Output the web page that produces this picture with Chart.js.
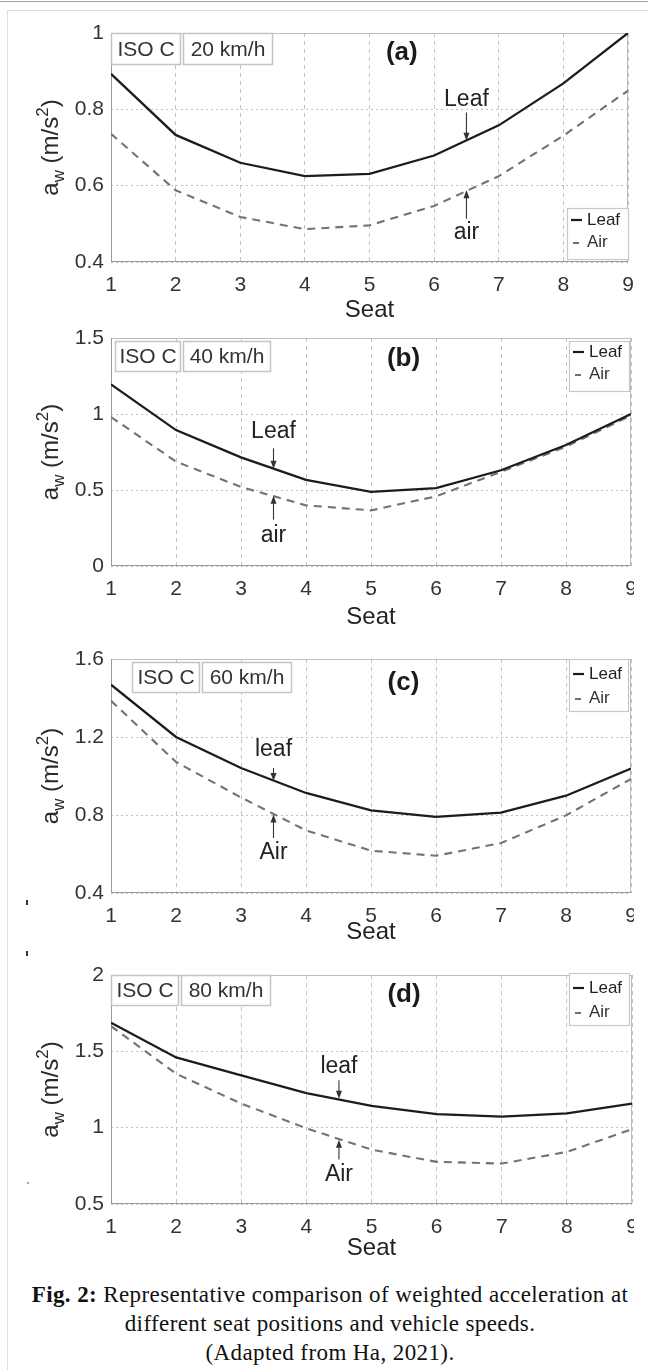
<!DOCTYPE html>
<html><head><meta charset="utf-8">
<script src="https://cdn.jsdelivr.net/npm/chart.js@4.4.1/dist/chart.umd.min.js"></script>
<style>
html,body{margin:0;padding:0;background:#fff;}
body{width:648px;height:1370px;position:relative;overflow:hidden;}
#topline{position:absolute;left:0;top:1px;width:648px;height:0;border-top:1px solid #a3a3a3;}
#frame{position:absolute;left:7px;top:10px;width:700px;height:1400px;border-left:1px solid #dedede;border-top:1px solid #dedede;}
canvas{position:absolute;left:0;}
#caption{position:absolute;left:0;width:660px;top:1280px;text-align:center;font-family:'Liberation Serif','Times New Roman',serif;font-size:23px;letter-spacing:0.4px;line-height:29px;color:#111;}
</style></head>
<body>
<div id="topline"></div><div id="frame"></div>
<canvas id="cA" width="648" height="330" style="top:0px"></canvas>
<canvas id="cB" width="634" height="330" style="top:320px"></canvas>
<canvas id="cC" width="634" height="320" style="top:640px"></canvas>
<canvas id="cD" width="634" height="310" style="top:960px"></canvas>
<div id="caption"><b>Fig. 2:</b> Representative comparison of weighted acceleration at<br>different seat positions and vehicle speeds.<br>(Adapted from Ha, 2021).</div>
<script>
// ---- data ----
const seats = [1, 2, 3, 4, 5, 6, 7, 8, 9];
const xTickLabels = ['1', '2', '3', '4', '5', '6', '7', '8', '9'];
const seriesNames = ['Leaf', 'Air'];

const leafA = [0.893, 0.733, 0.66, 0.625, 0.631, 0.679, 0.758, 0.868, 1.0];
const airA  = [0.736, 0.588, 0.518, 0.486, 0.496, 0.547, 0.625, 0.731, 0.849];
const leafB = [1.195, 0.894, 0.715, 0.567, 0.488, 0.512, 0.63, 0.796, 1.0];
const airB  = [0.98, 0.687, 0.52, 0.399, 0.366, 0.458, 0.62, 0.785, 0.99];
const leafC = [1.468, 1.2, 1.041, 0.913, 0.824, 0.79, 0.812, 0.899, 1.038];
const airC  = [1.386, 1.072, 0.89, 0.721, 0.617, 0.591, 0.656, 0.798, 0.985];
const leafD = [1.687, 1.46, 1.342, 1.227, 1.143, 1.089, 1.072, 1.094, 1.158];
const airD  = [1.665, 1.353, 1.158, 0.996, 0.856, 0.776, 0.765, 0.841, 0.99];

const yTicksA = [0.4, 0.6, 0.8, 1];   const yLabelsA = ['0.4', '0.6', '0.8', '1'];
const yTicksB = [0, 0.5, 1, 1.5];     const yLabelsB = ['0', '0.5', '1', '1.5'];
const yTicksC = [0.4, 0.8, 1.2, 1.6]; const yLabelsC = ['0.4', '0.8', '1.2', '1.6'];
const yTicksD = [0.5, 1, 1.5, 2];     const yLabelsD = ['0.5', '1', '1.5', '2'];

const panelTags = ['(a)', '(b)', '(c)', '(d)'];
const roadLabel = 'ISO C';
const speedLabels = ['20 km/h', '40 km/h', '60 km/h', '80 km/h'];
const xTitle = 'Seat';

// annotation callouts: [label, x, textY, arrowStartY, arrowTipY]
const notesA = [['Leaf', 6.5, 0.826, 0.792, 0.718], ['air', 6.5, 0.477, 0.513, 0.588]];
const notesB = [['Leaf', 3.5, 0.887, 0.774, 0.640], ['air', 3.5, 0.200, 0.305, 0.462]];
const notesC = [['leaf', 3.5, 1.135, 1.041, 0.975], ['Air', 3.5, 0.605, 0.682, 0.802]];
const notesD = [['leaf', 4.5, 1.400, 1.310, 1.190], ['Air', 4.5, 0.694, 0.791, 0.921]];

// ---- layout (pixels) ----
const panels = [
  {id:'cA', top:0,   H:330, W:648, plotTop:33,  plotBottom:262,  plotRight:628, seatY:310,
   leaf:leafA, air:airA, yt:yTicksA, yl:yLabelsA, notes:notesA,
   box:{dx:0, dy:0, w1:70, w2:90, h:32}, tagDy:20,
   legend:{x:567, y:208, w:62, h:52, r1:12, r2:34}},
  {id:'cB', top:320, H:330, W:634, plotTop:338, plotBottom:566,  plotRight:631, seatY:617,
   leaf:leafB, air:airB, yt:yTicksB, yl:yLabelsB, notes:notesB,
   box:{dx:4, dy:3, w1:66, w2:88, h:31}, tagDy:21,
   legend:{x:569, y:341, w:61, h:51, r1:11, r2:33}},
  {id:'cC', top:640, H:320, W:634, plotTop:659, plotBottom:893,  plotRight:631, seatY:932,
   leaf:leafC, air:airC, yt:yTicksC, yl:yLabelsC, notes:notesC,
   box:{dx:21, dy:3, w1:68, w2:90, h:31}, tagDy:24,
   legend:{x:569, y:659, w:60, h:53, r1:15, r2:39}, marks:[[27, 900, 27, 905], [27, 951, 27, 956]]},
  {id:'cD', top:960, H:310, W:634, plotTop:975, plotBottom:1204, plotRight:632, seatY:1248,
   leaf:leafD, air:airD, yt:yTicksD, yl:yLabelsD, notes:notesD,
   box:{dx:0, dy:0, w1:68, w2:90, h:31}, tagDy:20,
   legend:{x:569, y:973, w:61, h:53, r1:15, r2:39}, dots:[[27, 1182]]}
];

const SANS = "'Liberation Sans', Arial, Helvetica, sans-serif";
const TITLE_LH = 28.8;

const deco = {
  id: 'deco',
  beforeDatasetsDraw(chart, args, o) {
    const ctx = chart.ctx, a = chart.chartArea;
    ctx.save();
    ctx.lineWidth = 1;
    ctx.strokeStyle = '#bdbdbd';
    ctx.beginPath();
    ctx.moveTo(a.left, a.top + 0.5); ctx.lineTo(a.right, a.top + 0.5);
    ctx.moveTo(a.right - 0.5, a.top); ctx.lineTo(a.right - 0.5, a.bottom);
    ctx.stroke();
    ctx.strokeStyle = '#9a9a9a';
    ctx.beginPath();
    ctx.moveTo(a.left + 0.5, a.top); ctx.lineTo(a.left + 0.5, a.bottom);
    ctx.moveTo(a.left, a.bottom - 0.5); ctx.lineTo(a.right, a.bottom - 0.5);
    ctx.stroke();
    ctx.restore();
  },
  afterDatasetsDraw(chart, args, o) {
    const p = o.p, ctx = chart.ctx, a = chart.chartArea;
    const xs = chart.scales.x, ys = chart.scales.y;
    ctx.save();
    // ISO C / speed boxes
    const bx = a.left + p.box.dx, by = a.top + p.box.dy;
    const boxes = [[bx, p.box.w1, roadLabel], [bx + p.box.w1 + 2, p.box.w2, speedLabels[o.idx]]];
    boxes.forEach(([x0, w, t]) => {
      ctx.fillStyle = '#fff';
      ctx.fillRect(x0, by, w, p.box.h);
      ctx.strokeStyle = '#c4c4c4'; ctx.lineWidth = 1.5;
      ctx.strokeRect(x0 + 0.5, by + 0.5, w - 1, p.box.h - 1);
      ctx.fillStyle = '#333'; ctx.font = '21px ' + SANS;
      ctx.textAlign = 'center'; ctx.textBaseline = 'middle';
      ctx.fillText(t, x0 + w / 2, by + p.box.h / 2 + 1);
    });
    // panel tag
    ctx.fillStyle = '#1a1a1a'; ctx.font = 'bold 26px ' + SANS;
    ctx.textAlign = 'center'; ctx.textBaseline = 'middle';
    ctx.fillText(panelTags[o.idx], xs.getPixelForValue(5.5), a.top + p.tagDy);
    // callouts
    p.notes.forEach(([t, x, ty, y0, y1]) => {
      const px = xs.getPixelForValue(x);
      ctx.fillStyle = '#222'; ctx.font = '23px ' + SANS;
      ctx.textAlign = 'center'; ctx.textBaseline = 'middle';
      ctx.fillText(t, px, ys.getPixelForValue(ty));
      const p0 = ys.getPixelForValue(y0), p1 = ys.getPixelForValue(y1);
      const dir = p1 > p0 ? 1 : -1;
      ctx.strokeStyle = '#333'; ctx.lineWidth = 1.1;
      ctx.beginPath(); ctx.moveTo(px, p0); ctx.lineTo(px, p1 - dir * 5); ctx.stroke();
      ctx.fillStyle = '#333';
      ctx.beginPath(); ctx.moveTo(px, p1); ctx.lineTo(px - 3, p1 - dir * 8); ctx.lineTo(px + 3, p1 - dir * 8); ctx.closePath(); ctx.fill();
    });
    // legend
    const L = p.legend, ly = L.y - o.top;
    ctx.fillStyle = '#fff'; ctx.fillRect(L.x, ly, L.w, L.h);
    ctx.strokeStyle = '#c8c8c8'; ctx.lineWidth = 1.2;
    ctx.strokeRect(L.x + 0.5, ly + 0.5, L.w - 1, L.h - 1);
    ctx.font = '17px ' + SANS; ctx.textAlign = 'left'; ctx.textBaseline = 'middle';
    ctx.fillStyle = '#222';
    ctx.fillText(seriesNames[0], L.x + 20, ly + L.r1);
    ctx.fillStyle = '#333';
    ctx.fillText(seriesNames[1], L.x + 20, ly + L.r2);
    ctx.strokeStyle = '#1c1c1c'; ctx.lineWidth = 2.2;
    ctx.beginPath(); ctx.moveTo(L.x + 4, ly + L.r1); ctx.lineTo(L.x + 15, ly + L.r1); ctx.stroke();
    ctx.strokeStyle = '#707070'; ctx.lineWidth = 2;
    ctx.beginPath(); ctx.moveTo(L.x + 6, ly + L.r2 + 1); ctx.lineTo(L.x + 12, ly + L.r2 + 1); ctx.stroke();
    // y-axis title: a_w (m/s^2)
    ctx.translate(58, (a.top + a.bottom) / 2);
    ctx.rotate(-Math.PI / 2);
    const big = '24px ' + SANS, small = '17px ' + SANS;
    const parts = [['a', big, 0], ['w', small, 6], [' (m/s', big, 0], ['2', small, -10], [')', big, 0]];
    let total = 0;
    parts.forEach(pt => { ctx.font = pt[1]; total += ctx.measureText(pt[0]).width; });
    let cx = -total / 2;
    ctx.fillStyle = '#2a2a2a'; ctx.textAlign = 'left'; ctx.textBaseline = 'alphabetic';
    parts.forEach(pt => { ctx.font = pt[1]; ctx.fillText(pt[0], cx, pt[2]); cx += ctx.measureText(pt[0]).width; });
    ctx.restore();
    // scan specks of the source figure
    ctx.save();
    (p.marks || []).forEach(m => {
      ctx.strokeStyle = '#333'; ctx.lineWidth = 2;
      ctx.beginPath(); ctx.moveTo(m[0], m[1] - o.top); ctx.lineTo(m[2], m[3] - o.top); ctx.stroke();
    });
    (p.dots || []).forEach(d => { ctx.fillStyle = '#aaa'; ctx.fillRect(d[0], d[1] - o.top, 2, 2); });
    ctx.restore();
  }
};

panels.forEach((p, idx) => {
  const padTop = p.plotTop - p.top;
  const scaleBottom = p.seatY + TITLE_LH / 2;
  const hX = scaleBottom - p.plotBottom;
  const padBottom = p.top + p.H - scaleBottom;
  const padRight = p.W - p.plotRight;
  new Chart(document.getElementById(p.id), {
    type: 'line',
    data: {
      datasets: [
        {label: seriesNames[0], data: seats.map((s, i) => ({x: s, y: p.leaf[i]})),
         borderColor: '#1c1c1c', borderWidth: 2.3, pointRadius: 0, tension: 0, fill: false},
        {label: seriesNames[1], data: seats.map((s, i) => ({x: s, y: p.air[i]})),
         borderColor: '#737373', borderWidth: 2.1, borderDash: [8, 6], pointRadius: 0, tension: 0, fill: false}
      ]
    },
    options: {
      responsive: false, animation: false, devicePixelRatio: 1,
      layout: {padding: {top: padTop, bottom: padBottom, left: 0, right: padRight}},
      plugins: {legend: {display: false}, tooltip: {enabled: false}, deco: {p: p, idx: idx, top: p.top}},
      scales: {
        x: {
          type: 'linear', min: seats[0], max: seats[seats.length - 1],
          afterBuildTicks: s => { s.ticks = seats.map(v => ({value: v})); },
          afterFit: s => { s.height = hX; s.paddingLeft = 0; s.paddingRight = 0; },
          ticks: {autoSkip: false, maxRotation: 0, padding: 11, color: '#333',
                  font: {family: SANS, size: 21},
                  callback: v => xTickLabels[seats.indexOf(v)]},
          grid: {color: '#c2c2c2', lineWidth: 1, drawTicks: false},
          border: {display: false, dash: [4, 4]},
          title: {display: true, text: xTitle, color: '#222', padding: 0,
                  font: {family: SANS, size: 24, lineHeight: 1.2}}
        },
        y: {
          type: 'linear', min: p.yt[0], max: p.yt[p.yt.length - 1],
          afterBuildTicks: s => { s.ticks = p.yt.map(v => ({value: v})); },
          afterFit: s => { s.width = 111; s.paddingTop = 0; s.paddingBottom = 0; },
          ticks: {padding: 7, color: '#333', font: {family: SANS, size: 21},
                  callback: v => p.yl[p.yt.indexOf(v)]},
          grid: {color: '#c2c2c2', lineWidth: 1, drawTicks: false},
          border: {display: false, dash: [2, 3]}
        }
      }
    },
    plugins: [deco]
  });
});
</script>
</body></html>
